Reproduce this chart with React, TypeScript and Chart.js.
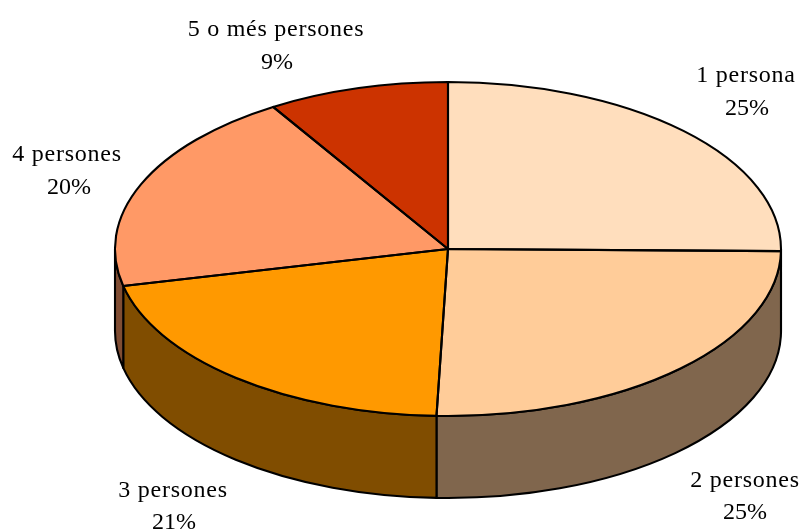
import React, { useEffect, useRef } from "react";
import { Chart, registerables } from "chart.js";

Chart.register(...registerables);

const categories = ["1 persona", "2 persones", "3 persones", "4 persones", "5 o més persones"];
const shares = [25.2, 25.35, 20.9, 19.75, 8.8];
const shareLabels = ["25%", "25%", "21%", "20%", "9%"];
const topColors = ["#FFDEBD", "#FFCC99", "#FF9900", "#FF9966", "#CC3300"];
const sideColors = ["#806F5E", "#80664D", "#804D00", "#804D33", "#661A00"];

// Layout of the tilted pie and of the label anchors [centre x, first baseline, second baseline, second centre x]
const CX = 448;
const CY = 249;
const RX = 333;
const RY = 167;
const DEPTH = 82;
const EDGE = 2.1;
const FONT = '24px "Liberation Serif"';
const NAME_SPACING = "0.75px";
const labelAnchors = [
  [746, 82, 115, 747],
  [745, 487, 519, 745],
  [173, 497, 529, 174],
  [67, 161, 194, 69],
  [276, 36, 69, 277],
];

const tiltPlugin = {
  id: "tilt",
  beforeDatasetsDraw(chart: any) {
    const { ctx } = chart;
    const arcs = chart.getDatasetMeta(0).data;
    ctx.save();
    ctx.lineWidth = EDGE;
    ctx.strokeStyle = "#000";
    ctx.lineJoin = "round";
    arcs.forEach((arc: any, i: number) => {
      const a0 = Math.max(arc.startAngle, 0);
      const a1 = Math.min(arc.endAngle, Math.PI);
      if (a1 <= a0) return;
      ctx.beginPath();
      ctx.ellipse(CX, CY, RX, RY, 0, a0, a1, false);
      ctx.ellipse(CX, CY + DEPTH, RX, RY, 0, a1, a0, true);
      ctx.closePath();
      ctx.fillStyle = sideColors[i];
      ctx.fill();
      ctx.stroke();
    });
    ctx.restore();
    const first = arcs[0];
    const r = first.outerRadius;
    ctx.save();
    ctx.translate(CX, CY);
    ctx.scale(RX / r, RY / r);
    ctx.translate(-first.x, -first.y);
  },
  afterDatasetsDraw(chart: any) {
    const { ctx } = chart;
    ctx.restore();
    const arcs = chart.getDatasetMeta(0).data;
    ctx.save();
    ctx.lineWidth = EDGE;
    ctx.strokeStyle = "#000";
    ctx.lineJoin = "round";
    arcs.forEach((arc: any) => {
      ctx.beginPath();
      ctx.moveTo(CX, CY);
      ctx.ellipse(CX, CY, RX, RY, 0, arc.startAngle, arc.endAngle, false);
      ctx.closePath();
      ctx.stroke();
    });
    ctx.fillStyle = "#000";
    ctx.font = FONT;
    ctx.textAlign = "center";
    ctx.textBaseline = "alphabetic";
    categories.forEach((name, i) => {
      const [x, y1, y2, x2] = labelAnchors[i];
      ctx.letterSpacing = NAME_SPACING;
      ctx.fillText(name, x, y1);
      ctx.letterSpacing = "0px";
      ctx.fillText(shareLabels[i], x2, y2);
    });
    ctx.restore();
  },
};

export default function App() {
  const ref = useRef<HTMLCanvasElement>(null);
  useEffect(() => {
    document.body.style.margin = "0";
    const chart = new Chart(ref.current!, {
      type: "pie",
      data: {
        labels: categories,
        datasets: [
          {
            data: shares,
            backgroundColor: topColors,
            borderWidth: 0,
            clip: false,
          } as any,
        ],
      },
      options: {
        animation: false,
        responsive: false,
        events: [],
        layout: { padding: 0 },
        plugins: { legend: { display: false }, tooltip: { enabled: false } },
      },
      plugins: [tiltPlugin],
    });
    return () => chart.destroy();
  }, []);
  return <canvas ref={ref} width={802} height={530} style={{ display: "block", background: "#fff" }} />;
}
